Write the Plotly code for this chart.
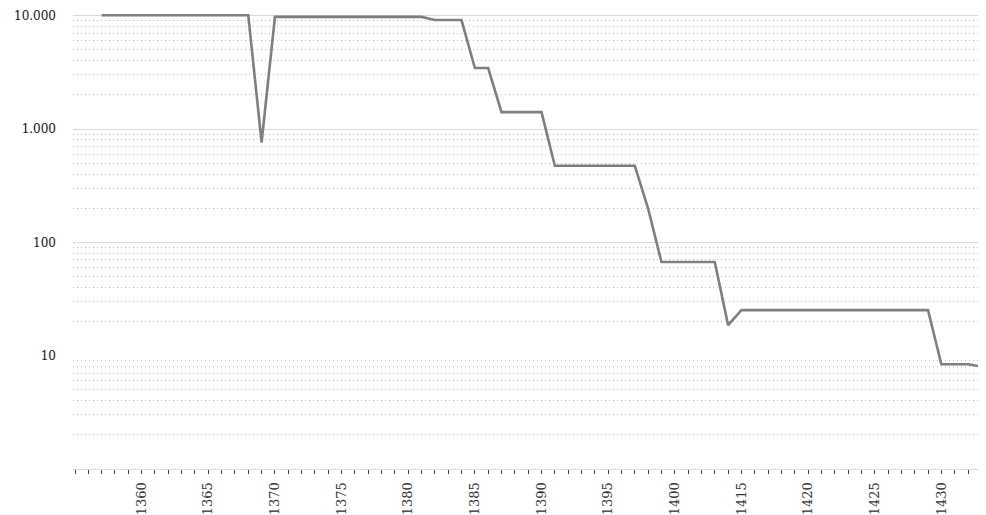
import plotly.graph_objects as go

# Categories (years); note the gap in the source between 1404 and 1415
years = [str(y) for y in range(1355, 1405)] + [str(y) for y in range(1415, 1434)]

values = (
    [None, None]                 # 1355-1356
    + [10080] * 12               # 1357-1368
    + [760]                      # 1369
    + [9750] * 12                # 1370-1381
    + [9150] * 3                 # 1382-1384
    + [3450] * 2                 # 1385-1386
    + [1410] * 4                 # 1387-1390
    + [474] * 7                  # 1391-1397
    + [198]                      # 1398
    + [67] * 5                   # 1399-1403
    + [18.6]                     # 1404
    + [25.2] * 15                # 1415-1429
    + [8.4] * 3                  # 1430-1432
    + [8.0]                      # 1433
)

x_labels = [y if (i % 5 == 0 and i > 0) else "" for i, y in enumerate(years)]

y_tickvals = [10, 100, 1000, 10000]
y_ticktext = ["10", "100", "1.000", "10.000"]
major_grid = [100, 1000, 10000]
minor_grid = [m * 10 ** e for e in range(0, 4) for m in range(2, 10)]

serif = "Georgia, DejaVu Serif, Liberation Serif, serif"

fig = go.Figure()
fig.add_trace(go.Scatter(
    x=years, y=values, mode="lines",
    line=dict(color="#7f7f7f", width=2.6),
    connectgaps=False, showlegend=False, hoverinfo="x+y",
))
# invisible trace on overlay axis so it renders its gridlines
fig.add_trace(go.Scatter(
    x=years, y=values, mode="lines", yaxis="y2",
    line=dict(color="rgba(0,0,0,0)", width=0), showlegend=False, hoverinfo="skip",
))

fig.update_layout(
    width=978, height=507,
    margin=dict(l=65, r=0, t=2, b=43),
    plot_bgcolor="white", paper_bgcolor="white",
    xaxis=dict(
        type="category",
        range=[-0.15, 68.35],
        tickmode="array", tickvals=years, ticktext=x_labels,
        tickangle=-90,
        ticks="outside", ticklen=4, tickwidth=1, tickcolor="#444",
        ticklabelstandoff=3,
        showline=True, linecolor="#d9d9d9", linewidth=1,
        showgrid=False, zeroline=False,
        tickfont=dict(family=serif, size=13, color="#333"),
    ),
    yaxis=dict(
        type="log", range=[0, 4.05],
        tickmode="array", tickvals=y_tickvals, ticktext=y_ticktext,
        showgrid=False, zeroline=False, showline=False, ticks="",
        ticklabelstandoff=16,
        tickfont=dict(family=serif, size=12, color="#111"),
        minor=dict(tickmode="array", tickvals=minor_grid, showgrid=True,
                   gridcolor="#bdbdbd", gridwidth=1, griddash="1px,3px", ticks=""),
    ),
    yaxis2=dict(
        type="log", range=[0, 4.05], overlaying="y", side="left",
        tickmode="array", tickvals=major_grid, showticklabels=False,
        showgrid=True, gridcolor="#d9d9d9", gridwidth=1, zeroline=False, ticks="",
        layer="below traces",
    ),
)

fig.write_html("out.html")
